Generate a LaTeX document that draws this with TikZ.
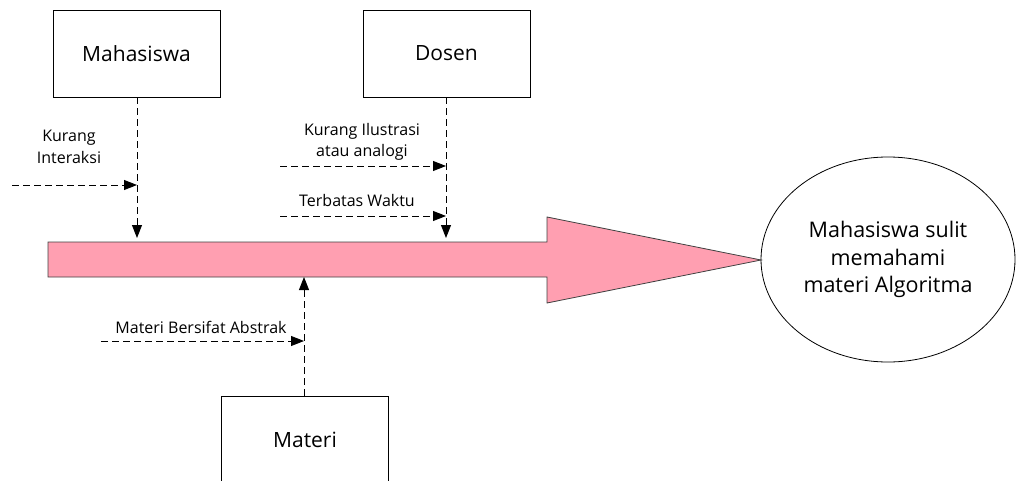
\documentclass[tikz,border=0pt]{standalone}
\usepackage{fontspec}
\setmainfont{Open Sans}
\usetikzlibrary{arrows.meta,shapes.geometric}
\definecolor{bodypink}{HTML}{FF9FB1}
\begin{document}
\begin{tikzpicture}[x=1pt,y=-1pt,
  box/.style={draw,line width=0.8pt,minimum width=167pt,minimum height=87pt,
    inner sep=0pt,font=\fontsize{21}{24}\selectfont},
  cause/.style={line width=0.9pt,dash pattern=on 7pt off 4pt,
    -{Triangle[length=13pt,width=10pt]}},
  lbl/.style={font=\fontsize{16}{21.5}\selectfont,align=center,inner sep=0pt}]
\useasboundingbox (0,0) rectangle (1016,481);

% main spine of the fishbone
\filldraw[fill=bodypink,draw=black!75,line width=0.8pt]
  (48,242) -- (547,242) -- (547,217) -- (761,260) -- (547,303)
  -- (547,277) -- (48,277) -- cycle;
\coordinate (tip) at (761,260);

% effect
\node[draw,ellipse,line width=0.8pt,minimum width=254pt,minimum height=205pt,
  inner sep=0pt,align=center,font=\fontsize{21.5}{27.5}\selectfont]
  (effect) at (888,259.5) {Mahasiswa sulit\\memahami\\materi Algoritma};

% cause categories
\node[box] (mhs) at (136.5,53.5) {Mahasiswa};
\node[box] (dsn) at (446.5,53.5) {Dosen};
\node[box] (mtr) at (305,439.5) {Materi};

% points where the category lines meet the spine
\coordinate (mhsEnd) at (137,238);
\coordinate (dsnEnd) at (446,238);
\coordinate (mtrEnd) at (304,277);

\draw[cause] (mhs.south -| mhsEnd) -- (mhsEnd);
\draw[cause] (dsn.south -| dsnEnd) -- (dsnEnd);
\draw[cause] (mtr.north -| mtrEnd) -- (mtrEnd);

% sub-causes
\coordinate (s1a) at (12,185);  \coordinate (s1b) at (137,185);
\coordinate (s2a) at (280,166); \coordinate (s2b) at (446,166);
\coordinate (s3a) at (280,216); \coordinate (s3b) at (446,216);
\coordinate (s4a) at (101,341); \coordinate (s4b) at (304,341);

\draw[cause] (s1a) -- (s1b);
\draw[cause] (s2a) -- (s2b);
\draw[cause] (s3a) -- (s3b);
\draw[cause] (s4a) -- (s4b);

\node[lbl] (l1) at (69,147) {Kurang\\Interaksi};
\node[lbl] (l2) at (362,142) {Kurang Ilustrasi\\atau analogi};
\node[lbl] (l3) at (357,200) {Terbatas Waktu};
\node[lbl] (l4) at (201,327) {Materi Bersifat Abstrak};
\end{tikzpicture}
\end{document}
